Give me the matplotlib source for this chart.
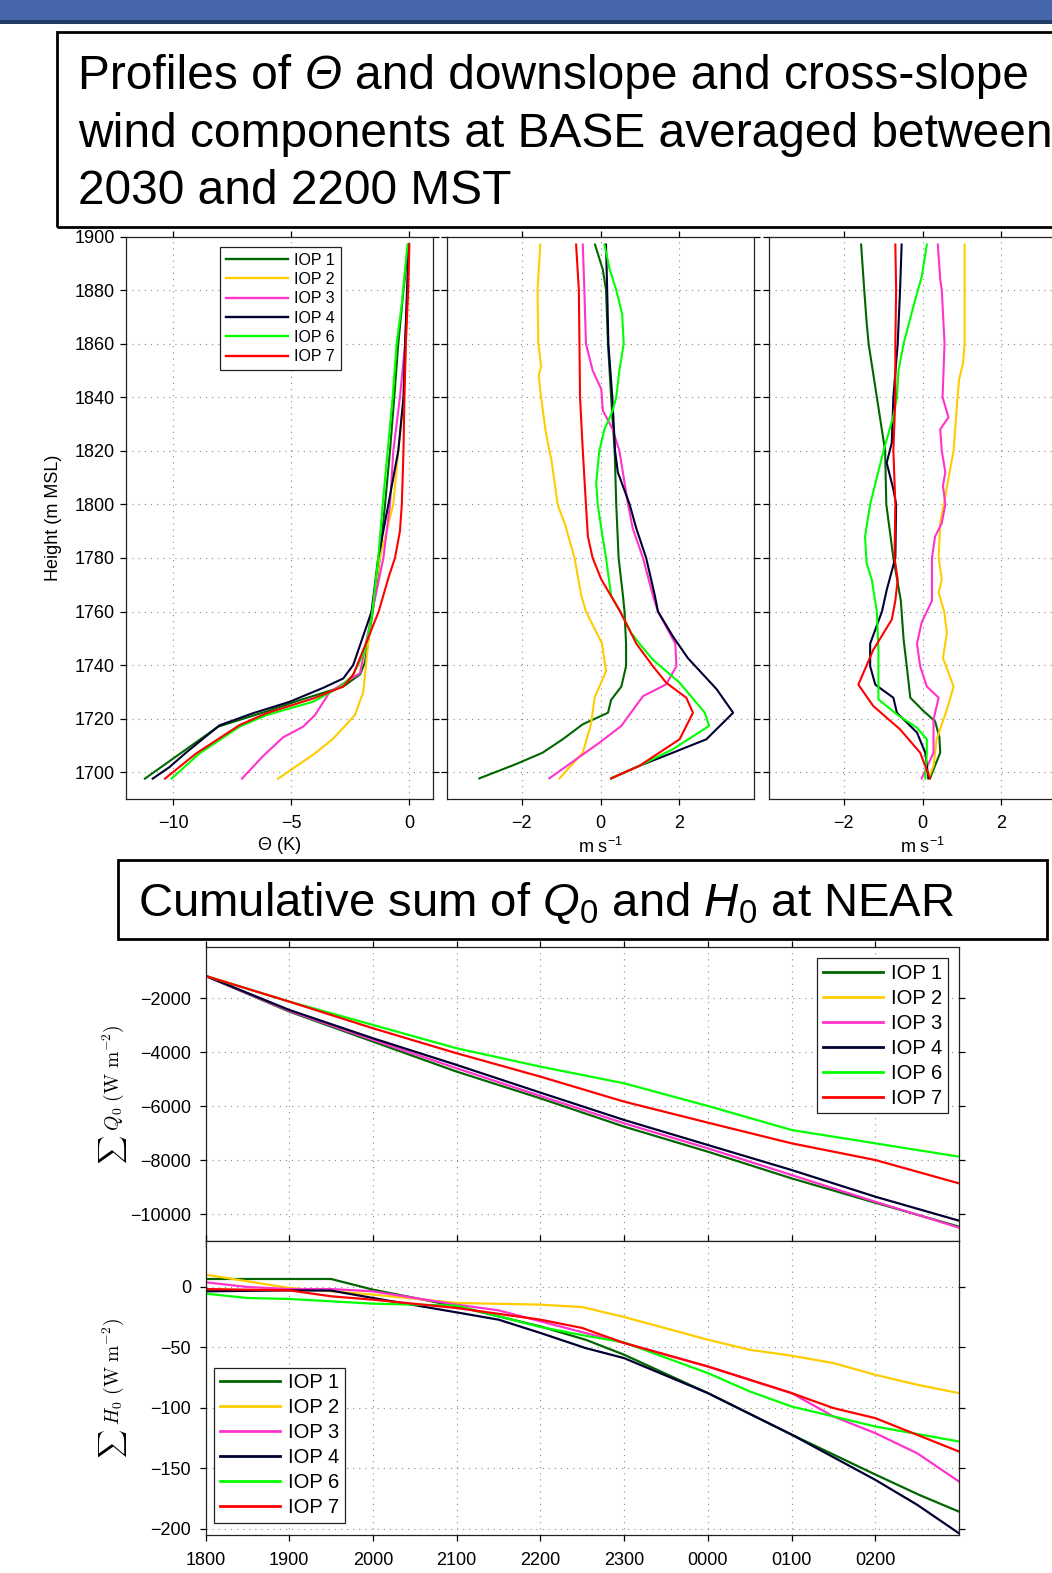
import matplotlib
matplotlib.use('Agg')
import matplotlib.pyplot as plt
from matplotlib.patches import Rectangle

plt.rcParams['font.family'] = ['Liberation Sans', 'DejaVu Sans']
plt.rcParams['mathtext.fontset'] = 'custom'
plt.rcParams['mathtext.rm'] = 'Liberation Sans'
plt.rcParams['mathtext.it'] = 'Liberation Sans:italic'
plt.rcParams['mathtext.bf'] = 'Liberation Sans:bold'

# -------------------------------------------------------------------------
# DATA
# -------------------------------------------------------------------------

IOP_NAMES = ['IOP 1', 'IOP 2', 'IOP 3', 'IOP 4', 'IOP 6', 'IOP 7']
IOP_COLORS = ['#006600', '#FFCC00', '#FF33CC', '#000033', '#00FF00', '#FF0000']

# Potential temperature profiles (K), heights in m MSL
th_z_iop1 = [1697.6, 1707, 1717, 1722, 1727, 1732, 1736.5, 1741, 1760, 1780, 1800, 1820, 1840, 1860, 1880, 1897]
th_iop1 = [-11.2, -9.7, -8.1, -6.3, -4.6, -2.8, -2.09, -1.88, -1.55, -1.25, -1.03, -0.82, -0.64, -0.47, -0.25, -0.04]
th_z_iop2 = [1697.6, 1707, 1712.5, 1721.3, 1730, 1748.8, 1760, 1780, 1800, 1820, 1840, 1860, 1880, 1897]
th_iop2 = [-5.56, -4.0, -3.23, -2.31, -1.95, -1.74, -1.6, -1.25, -0.68, -0.47, -0.23, -0.15, -0.08, -0.02]
th_z_iop3 = [1697.6, 1706, 1713, 1717, 1721.3, 1730, 1737, 1760, 1780, 1800, 1820, 1840, 1860, 1880, 1897]
th_iop3 = [-7.09, -6.2, -5.35, -4.5, -4.0, -3.37, -2.09, -1.57, -1.1, -0.82, -0.68, -0.4, -0.18, -0.08, -0.02]
th_z_iop4 = [1697.6, 1701.9, 1707.3, 1712.4, 1717.5, 1722, 1726.3, 1731.5, 1735, 1740, 1760, 1780, 1800, 1820, 1840, 1860, 1880, 1897]
th_iop4 = [-10.87, -10.16, -9.46, -8.75, -8.04, -6.63, -5.07, -3.65, -2.8, -2.38, -1.6, -1.32, -0.89, -0.47, -0.25, -0.18, -0.1, -0.02]
th_z_iop6 = [1697.6, 1707, 1717, 1721.3, 1726.3, 1732, 1736.4, 1745, 1757.5, 1780, 1800, 1820, 1840, 1860, 1875, 1897]
th_iop6 = [-10.07, -8.89, -7.19, -6.06, -4.08, -2.9, -2.38, -1.9, -1.6, -1.32, -1.13, -0.92, -0.71, -0.54, -0.32, -0.08]
th_z_iop7 = [1697.6, 1707, 1717.6, 1722, 1727.5, 1732, 1736.4, 1750, 1760, 1772.5, 1780, 1790, 1800, 1820, 1840, 1860, 1880, 1897]
th_iop7 = [-10.35, -9.03, -7.19, -6.06, -4.08, -2.8, -2.38, -1.75, -1.3, -0.89, -0.61, -0.4, -0.32, -0.25, -0.21, -0.15, -0.05, 0.0]

# Downslope wind component (m/s)
u_z_iop1 = [1697.7, 1703, 1707.3, 1712.3, 1717.9, 1722.2, 1727, 1732, 1739.6, 1748, 1760, 1766, 1780, 1800, 1820, 1840, 1860, 1880, 1887.6, 1897]
u_iop1 = [-3.08, -2.15, -1.47, -0.96, -0.45, 0.19, 0.27, 0.53, 0.65, 0.65, 0.61, 0.57, 0.46, 0.4, 0.36, 0.27, 0.19, 0.14, 0.06, -0.14]
u_z_iop2 = [1697.7, 1707.3, 1718, 1727.8, 1737.7, 1748, 1760, 1766, 1780, 1792, 1800, 1817, 1820, 1828, 1840, 1848, 1851.6, 1860, 1880, 1897]
u_iop2 = [-1.04, -0.45, -0.24, -0.15, 0.14, 0.04, -0.37, -0.49, -0.66, -0.89, -1.09, -1.25, -1.3, -1.4, -1.51, -1.57, -1.51, -1.58, -1.6, -1.53]
u_z_iop3 = [1697.7, 1711, 1717.3, 1728.4, 1732.8, 1739.6, 1748, 1760, 1766, 1780, 1791, 1800, 1820, 1828, 1835, 1843, 1850, 1860, 1880, 1897]
u_iop3 = [-1.3, -0.03, 0.53, 1.08, 1.67, 1.93, 1.9, 1.46, 1.33, 1.08, 0.82, 0.7, 0.48, 0.31, 0.06, 0.02, -0.2, -0.37, -0.41, -0.45]
u_z_iop4 = [1697.7, 1702.4, 1707.3, 1712.3, 1722.2, 1731, 1742.6, 1750.7, 1760, 1766, 1780, 1791, 1800, 1812, 1820, 1840, 1860, 1880, 1897]
u_iop4 = [0.27, 0.99, 1.84, 2.69, 3.37, 2.95, 2.22, 1.84, 1.46, 1.38, 1.16, 0.91, 0.74, 0.44, 0.37, 0.3, 0.2, 0.17, 0.14]
u_z_iop6 = [1697.7, 1702.4, 1708.6, 1717.3, 1722.2, 1733.4, 1742, 1748, 1752, 1760, 1766, 1780, 1791, 1800, 1808, 1820, 1828, 1835, 1840, 1850, 1860, 1871, 1880, 1888, 1897]
u_iop6 = [0.27, 0.99, 1.84, 2.76, 2.65, 2.01, 1.33, 0.99, 0.78, 0.5, 0.27, 0.14, 0.02, -0.07, -0.11, -0.03, 0.1, 0.31, 0.4, 0.48, 0.59, 0.55, 0.4, 0.23, 0.1]
u_z_iop7 = [1697.7, 1702.4, 1712.3, 1722.2, 1727.8, 1733.4, 1739.6, 1748, 1760, 1772, 1780, 1788, 1800, 1820, 1840, 1880, 1897]
u_iop7 = [0.27, 0.99, 2.01, 2.35, 2.18, 1.67, 1.33, 0.91, 0.5, 0.02, -0.2, -0.32, -0.37, -0.45, -0.52, -0.55, -0.62]

# Cross-slope wind component (m/s)
v_z_iop1 = [1697.7, 1707.3, 1713, 1719, 1722.8, 1727.8, 1739.6, 1749.5, 1764, 1780, 1800, 1820, 1840, 1860, 1868, 1880, 1897]
v_iop1 = [0.19, 0.45, 0.43, 0.32, 0.03, -0.31, -0.4, -0.48, -0.55, -0.74, -0.92, -0.95, -1.16, -1.37, -1.42, -1.48, -1.56]
v_z_iop2 = [1697.7, 1702.4, 1712.3, 1723.4, 1732, 1742.6, 1752, 1760, 1767, 1772, 1780, 1793, 1803, 1813, 1820, 1840, 1846.6, 1852.8, 1860, 1880, 1897]
v_iop2 = [0.15, 0.28, 0.36, 0.62, 0.79, 0.52, 0.62, 0.55, 0.41, 0.49, 0.41, 0.45, 0.58, 0.7, 0.79, 0.89, 0.93, 1.03, 1.07, 1.07, 1.07]
v_z_iop3 = [1697.7, 1707.3, 1719.7, 1727.8, 1732, 1739.6, 1748, 1756, 1764, 1780, 1788, 1793, 1800, 1807, 1812, 1820, 1828, 1832.5, 1840, 1860, 1880, 1884, 1897]
v_iop3 = [-0.02, 0.28, 0.28, 0.41, 0.11, -0.06, -0.14, -0.02, 0.24, 0.24, 0.32, 0.49, 0.58, 0.52, 0.58, 0.49, 0.45, 0.66, 0.51, 0.56, 0.49, 0.45, 0.39]
v_z_iop4 = [1697.7, 1707.3, 1714.8, 1722.2, 1727.8, 1732.7, 1739.6, 1748, 1760, 1768, 1780, 1800, 1805.6, 1815.5, 1823, 1840, 1860, 1880, 1897]
v_iop4 = [0.15, 0.07, -0.14, -0.65, -0.74, -1.2, -1.33, -1.33, -1.03, -0.91, -0.69, -0.67, -0.74, -0.91, -0.78, -0.74, -0.63, -0.57, -0.53]
v_z_iop6 = [1697.7, 1707.3, 1712.3, 1716.6, 1721.6, 1727.2, 1745.7, 1760, 1772, 1778, 1788, 1800, 1820, 1833, 1840, 1850, 1860, 1874, 1885, 1897]
v_iop6 = [0.07, 0.11, 0.11, -0.14, -0.65, -1.12, -1.12, -1.16, -1.29, -1.42, -1.46, -1.33, -0.99, -0.74, -0.65, -0.61, -0.48, -0.23, -0.02, 0.11]
v_z_iop7 = [1697.7, 1707.3, 1716, 1724.7, 1732.7, 1745.7, 1757, 1764, 1772, 1780, 1800, 1820, 1840, 1860, 1880, 1897]
v_iop7 = [0.19, -0.06, -0.57, -1.25, -1.63, -1.25, -0.78, -0.69, -0.63, -0.71, -0.69, -0.74, -0.69, -0.69, -0.67, -0.69]

# Cumulative sums at NEAR, time in hours after 1800 MST
TIME_TICKS = [0, 1, 2, 3, 4, 5, 6, 7, 8]
TIME_LABELS = ['1800', '1900', '2000', '2100', '2200', '2300', '0000', '0100', '0200']

q0_hours = [0, 1, 2, 3, 4, 5, 6, 7, 8, 9]
q0_iop1 = [-1171, -2495, -3607, -4720, -5710, -6760, -7688, -8677, -9580, -10470]
q0_iop2 = []
q0_iop3 = [-1171, -2470, -3546, -4597, -5623, -6637, -7564, -8553, -9543, -10507]
q0_iop4 = [-1171, -2433, -3484, -4473, -5499, -6513, -7441, -8368, -9357, -10247]
q0_iop6 = [-1171, -2124, -2989, -3855, -4535, -5153, -5994, -6884, -7379, -7873]
q0_iop7 = [-1171, -2124, -3113, -4040, -4906, -5833, -6612, -7379, -7997, -8863]

h0_t_iop1 = [0, 1.5, 2, 3, 4, 4.54, 5, 6, 7, 8, 8.53, 9]
h0_iop1 = [6.6, 6.6, -2.2, -16, -32.6, -43.6, -56, -87.7, -122, -155, -172, -185.7]
h0_t_iop2 = [0, 1, 2, 3, 4, 4.5, 5, 6, 6.5, 7, 7.5, 8, 8.5, 9]
h0_iop2 = [10.2, -0.8, -6.3, -13.2, -14.6, -16.6, -24.8, -43.6, -51.9, -56.8, -62.9, -72.6, -80.8, -87.7]
h0_t_iop3 = [0, 0.5, 1, 1.5, 2, 3, 3.5, 4, 5, 6, 6.5, 7, 7.5, 8, 8.5, 9]
h0_iop3 = [3.9, 0, -1.7, -1.7, -3.6, -14.6, -19.3, -28.4, -46.3, -65.7, -76.7, -87.7, -107, -120.8, -137.4, -160.8]
h0_t_iop4 = [0, 1, 1.5, 2, 3, 3.5, 4, 4.54, 5, 6, 7, 8, 8.5, 9]
h0_iop4 = [-3.6, -2.8, -3, -9.1, -21, -27, -38, -50.5, -58.8, -87.7, -122, -159.4, -180, -203.6]
h0_t_iop6 = [0, 0.5, 1, 2, 3, 4, 4.54, 5, 6, 6.5, 7, 7.5, 8, 9]
h0_iop6 = [-5.5, -9.1, -9.9, -13.8, -15.4, -33.1, -40.3, -45.8, -71.2, -86.3, -98.8, -107, -115.3, -127.7]
h0_t_iop7 = [0, 1, 1.5, 2, 3, 4, 4.5, 5, 6, 7, 7.5, 8, 8.5, 9]
h0_iop7 = [-1.7, -2.8, -7.7, -10.5, -17.4, -27, -33.9, -46.3, -65.7, -87.7, -100.1, -108.4, -122.2, -136]

theta_series = [(th_iop1, th_z_iop1), (th_iop2, th_z_iop2), (th_iop3, th_z_iop3),
                (th_iop4, th_z_iop4), (th_iop6, th_z_iop6), (th_iop7, th_z_iop7)]
u_series = [(u_iop1, u_z_iop1), (u_iop2, u_z_iop2), (u_iop3, u_z_iop3),
            (u_iop4, u_z_iop4), (u_iop6, u_z_iop6), (u_iop7, u_z_iop7)]
v_series = [(v_iop1, v_z_iop1), (v_iop2, v_z_iop2), (v_iop3, v_z_iop3),
            (v_iop4, v_z_iop4), (v_iop6, v_z_iop6), (v_iop7, v_z_iop7)]
q0_series = [q0_iop1, q0_iop2, q0_iop3, q0_iop4, q0_iop6, q0_iop7]
h0_series = [(h0_t_iop1, h0_iop1), (h0_t_iop2, h0_iop2), (h0_t_iop3, h0_iop3),
             (h0_t_iop4, h0_iop4), (h0_t_iop6, h0_iop6), (h0_t_iop7, h0_iop7)]

# -------------------------------------------------------------------------
# LAYOUT helpers (pixel positions on the 1052 x 1573 slide)
# -------------------------------------------------------------------------
W, H = 1052, 1573


def fx(x):
    return x / W


def fy(y):
    return 1 - y / H


def box(x0, y0, x1, y1):
    return [fx(x0), fy(y1), (x1 - x0) / W, (y1 - y0) / H]


GRID_KW = dict(color='#8a8a8a', linestyle=(0, (1, 4.5)), linewidth=0.8)
TICK_FS = 13


def style_axes(ax, xpad=7, ypad=3.5):
    ax.tick_params(direction='out', length=4.5, width=0.9, top=True, right=True,
                   labelsize=TICK_FS, colors='black')
    ax.tick_params(axis='x', pad=xpad)
    ax.tick_params(axis='y', pad=ypad)
    for sp in ax.spines.values():
        sp.set_linewidth(0.9)
        sp.set_color('#222222')
    ax.grid(True, **GRID_KW)
    ax.set_axisbelow(True)


fig = plt.figure(figsize=(W / 100, H / 100), dpi=100)

# slide decoration: blue bar on top
fig.add_artist(Rectangle((0, fy(20)), 1, 20 / H, transform=fig.transFigure,
                         facecolor='#4566AB', edgecolor='none'))
fig.add_artist(Rectangle((0, fy(24)), 1, 4 / H, transform=fig.transFigure,
                         facecolor='#233A63', edgecolor='none'))

# -------------------------------------------------------------------------
# TITLE BOXES
# -------------------------------------------------------------------------
fig.add_artist(Rectangle((fx(57), fy(227)), (1120 - 57) / W, (227 - 32) / H,
                         transform=fig.transFigure, fill=False, edgecolor='black',
                         linewidth=2.0, clip_on=False))
fig.add_artist(Rectangle((fx(118), fy(939)), (1047 - 118) / W, (939 - 860) / H,
                         transform=fig.transFigure, fill=False, edgecolor='black',
                         linewidth=2.0))

TITLE_FS = 34.5
renderer = fig.canvas.get_renderer()
probe1 = fig.text(0, 0, 'a a', fontsize=TITLE_FS)
probe2 = fig.text(0, 0, 'aa', fontsize=TITLE_FS)
space_px = probe1.get_window_extent(renderer).width - probe2.get_window_extent(renderer).width
probe1.remove()
probe2.remove()

# first line has an italic Theta, so it is put together piece by piece
x_px = 78
for piece, style in [('Profiles of', 'normal'), ('Θ', 'italic'),
                     ('and downslope and cross-slope', 'normal')]:
    t = fig.text(fx(x_px), fy(89), piece, fontsize=TITLE_FS, style=style,
                 ha='left', va='baseline')
    x_px += t.get_window_extent(renderer).width + space_px
fig.text(fx(78), fy(147), 'wind components at BASE averaged between',
         fontsize=TITLE_FS, ha='left', va='baseline')
fig.text(fx(78), fy(204), '2030 and 2200 MST', fontsize=TITLE_FS,
         ha='left', va='baseline')
fig.text(fx(138), fy(916), 'Cumulative sum of $Q_0$ and $H_0$ at NEAR',
         fontsize=34, ha='left', va='baseline')

# -------------------------------------------------------------------------
# PROFILE PANELS
# -------------------------------------------------------------------------
ax_th = fig.add_axes(box(126, 236.5, 433, 799))
ax_u = fig.add_axes(box(447, 236.5, 754, 799))
ax_v = fig.add_axes(box(769, 236.5, 1076, 799))

for (vals, z), name, col in zip(theta_series, IOP_NAMES, IOP_COLORS):
    ax_th.plot(vals, z, color=col, lw=1.5, label=name)
for (vals, z), col in zip(u_series, IOP_COLORS):
    ax_u.plot(vals, z, color=col, lw=1.5)
for (vals, z), col in zip(v_series, IOP_COLORS):
    ax_v.plot(vals, z, color=col, lw=1.5)

for ax in (ax_th, ax_u, ax_v):
    style_axes(ax)
    ax.set_ylim(1690, 1900)
    ax.set_yticks(range(1700, 1901, 20))

ax_th.set_xlim(-12, 1)
ax_th.set_xticks([-10, -5, 0])
ax_th.set_xlabel('Θ (K)', fontsize=TICK_FS)
ax_th.set_ylabel('Height (m MSL)', fontsize=TICK_FS)
ax_th.yaxis.set_label_coords(-0.208, 0.5)
ax_th.xaxis.set_label_coords(0.5, -0.068)

for ax in (ax_u, ax_v):
    ax.set_xlim(-3.9, 3.9)
    ax.set_xticks([-2, 0, 2])
    ax.tick_params(labelleft=False)
    ax.set_xlabel('m s$^{-1}$', fontsize=TICK_FS)
    ax.xaxis.set_label_coords(0.5, -0.068)

leg = ax_th.legend(loc='upper left', bbox_to_anchor=(fx(220), fy(247)),
                   bbox_transform=fig.transFigure, borderaxespad=0,
                   fontsize=11.5, handlelength=3.9, handletextpad=0.4,
                   labelspacing=0.27, borderpad=0.35, fancybox=False,
                   framealpha=1, edgecolor='#222222')
leg.get_frame().set_linewidth(0.9)
for ln in leg.get_lines():
    ln.set_linewidth(1.7)

# -------------------------------------------------------------------------
# CUMULATIVE SUM PANELS
# -------------------------------------------------------------------------
ax_q = fig.add_axes(box(205.5, 947, 959, 1241))
ax_h = fig.add_axes(box(205.5, 1241, 959, 1535))

for vals, name, col in zip(q0_series, IOP_NAMES, IOP_COLORS):
    ax_q.plot(q0_hours[:len(vals)], vals, color=col, lw=1.6, label=name)
for (t, vals), name, col in zip(h0_series, IOP_NAMES, IOP_COLORS):
    ax_h.plot(t, vals, color=col, lw=1.6, label=name)

for ax in (ax_q, ax_h):
    style_axes(ax, xpad=8, ypad=6)
    ax.set_xlim(0, 9)
    ax.set_xticks(TIME_TICKS)
    ax.set_xticklabels(TIME_LABELS)

ax_q.tick_params(labelbottom=False)
ax_q.set_ylim(-11000, -100)
ax_q.set_yticks([-10000, -8000, -6000, -4000, -2000])
ax_h.set_ylim(-205, 38)
ax_h.set_yticks([-200, -150, -100, -50, 0])

ax_q.set_ylabel(r'$\sum\ Q_0\ (\mathrm{W\ m^{-2}})$', fontsize=14, math_fontfamily='cm')
ax_h.set_ylabel(r'$\sum\ H_0\ (\mathrm{W\ m^{-2}})$', fontsize=14, math_fontfamily='cm')
ax_q.yaxis.set_label_coords(-0.102, 0.5)
ax_h.yaxis.set_label_coords(-0.102, 0.5)

leg_kw = dict(borderaxespad=0, bbox_transform=fig.transFigure, fontsize=14.5,
              handlelength=3.0, handletextpad=0.4, labelspacing=0.3,
              borderpad=0.28, fancybox=False, framealpha=1, edgecolor='#222222')
lq = ax_q.legend(loc='upper right', bbox_to_anchor=(fx(948), fy(958)), **leg_kw)
lh = ax_h.legend(loc='lower left', bbox_to_anchor=(fx(214), fy(1523)), **leg_kw)
for lg in (lq, lh):
    lg.get_frame().set_linewidth(0.9)
    for ln in lg.get_lines():
        ln.set_linewidth(2.0)

fig.savefig('out.png', dpi=100)
